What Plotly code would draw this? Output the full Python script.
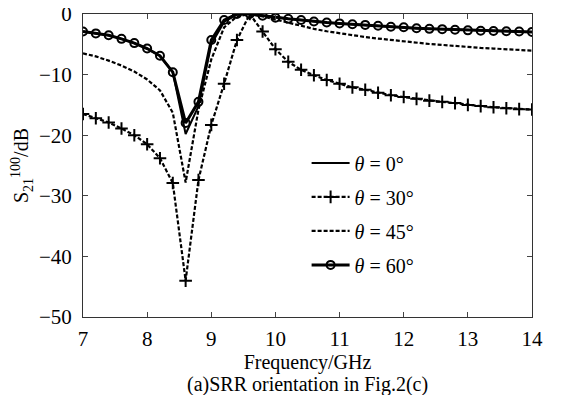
import plotly.graph_objects as go

freq = [7.0, 7.2, 7.4, 7.6, 7.8, 8.0, 8.2, 8.4, 8.6, 8.8, 9.0, 9.2, 9.4, 9.6, 9.8,
        10.0, 10.2, 10.4, 10.6, 10.8, 11.0, 11.2, 11.4, 11.6, 11.8, 12.0, 12.2, 12.4,
        12.6, 12.8, 13.0, 13.2, 13.4, 13.6, 13.8, 14.0]

s_0 = [-2.9, -3.2, -3.5, -4.1, -4.8, -5.7, -6.9, -9.6, -19.8, -15.2, -5.0, -1.3, -0.1, 0.0, -0.3,
       -0.6, -0.8, -1.0, -1.25, -1.4, -1.55, -1.7, -1.8, -1.95, -2.1, -2.2, -2.35, -2.45,
       -2.5, -2.6, -2.7, -2.75, -2.8, -2.85, -2.9, -2.95]

s_30 = [-16.5, -17.2, -17.9, -18.9, -20.0, -21.5, -23.8, -27.9, -44.0, -27.4, -18.3, -11.5, -4.3, 0.0, -2.9,
        -5.8, -7.9, -9.2, -10.1, -10.9, -11.5, -12.1, -12.5, -13.0, -13.4, -13.7, -14.0, -14.3,
        -14.5, -14.7, -15.0, -15.2, -15.4, -15.55, -15.7, -15.75]

s_45 = [-6.5, -7.0, -7.7, -8.5, -9.5, -10.8, -12.6, -16.3, -27.8, -15.8, -7.5, -2.2, -0.4, 0.0, -0.4,
        -0.9, -1.5, -2.0, -2.45, -2.85, -3.2, -3.5, -3.8, -4.05, -4.3, -4.55, -4.75, -4.95,
        -5.1, -5.3, -5.45, -5.6, -5.7, -5.85, -5.95, -6.05]

s_60 = [-2.9, -3.2, -3.5, -4.1, -4.8, -5.7, -6.9, -9.6, -18.0, -14.5, -4.3, -1.0, 0.0, 0.0, -0.3,
        -0.6, -0.8, -1.0, -1.25, -1.4, -1.55, -1.7, -1.8, -1.95, -2.1, -2.2, -2.35, -2.45,
        -2.5, -2.6, -2.7, -2.75, -2.8, -2.85, -2.9, -2.95]

labels = ["<i>θ</i> = 0°", "<i>θ</i> = 30°", "<i>θ</i> = 45°", "<i>θ</i> = 60°"]
x_ticks = [7, 8, 9, 10, 11, 12, 13, 14]
y_ticks = [-50, -40, -30, -20, -10, 0]

FONT = "Liberation Serif"
fig = go.Figure()

fig.add_trace(go.Scatter(x=freq, y=s_0, mode="lines", name=labels[0], legendgroup="a",
                         line=dict(color="black", width=2)))
fig.add_trace(go.Scatter(x=freq, y=s_30, mode="lines+markers", name=labels[1], legendgroup="b",
                         line=dict(color="black", width=2.2, dash="4px,2px"),
                         marker=dict(symbol="cross-thin", size=9, color="black",
                                     line=dict(color="black", width=2))))
fig.add_trace(go.Scatter(x=freq, y=s_45, mode="lines", name=labels[2], legendgroup="c",
                         line=dict(color="black", width=2.2, dash="4px,2px")))
fig.add_trace(go.Scatter(x=freq, y=s_60, mode="lines+markers", name=labels[3], legendgroup="d",
                         line=dict(color="black", width=3),
                         marker=dict(symbol="circle-open", size=8, color="black",
                                     line=dict(color="black", width=2))))

fig.update_layout(
    width=568, height=395,
    margin=dict(l=75, r=44, t=6, b=86, autoexpand=False),
    paper_bgcolor="white", plot_bgcolor="white",
    font=dict(family=FONT, size=20, color="black"),
    showlegend=True,
    legend=dict(x=0.498, y=0.573, xanchor="left", yanchor="top",
                bgcolor="rgba(0,0,0,0)", borderwidth=0,
                font=dict(family=FONT, size=20, color="black"),
                tracegroupgap=5, itemwidth=38),
    xaxis=dict(range=[7, 14], tickvals=x_ticks, ticks="inside", ticklen=5,
               showline=True, linecolor="#333", linewidth=1, mirror="ticks",
               showgrid=False, zeroline=False, automargin=False,
               ticklabeloverflow="allow", ticklabelstandoff=3,
               tickfont=dict(family=FONT, size=21),
               title=dict(text="Frequency/GHz", font=dict(family=FONT, size=20), standoff=2)),
    yaxis=dict(range=[-50, 0], tickvals=y_ticks, ticks="inside", ticklen=5,
               showline=True, linecolor="#333", linewidth=1, mirror="ticks",
               showgrid=False, zeroline=False, automargin=False,
               ticklabeloverflow="allow",
               tickfont=dict(family=FONT, size=21), ticklabelstandoff=6,
               title=dict(text="S<sub>21</sub><sup>100</sup>/dB", font=dict(family=FONT, size=20),
                          standoff=8)),
)

fig.add_annotation(text="(a)SRR orientation in Fig.2(c)", xref="paper", yref="paper",
                   x=0.5, y=0, yshift=-54, xanchor="center", yanchor="top",
                   showarrow=False, font=dict(family=FONT, size=20, color="black"))

fig.write_html("out.html")
